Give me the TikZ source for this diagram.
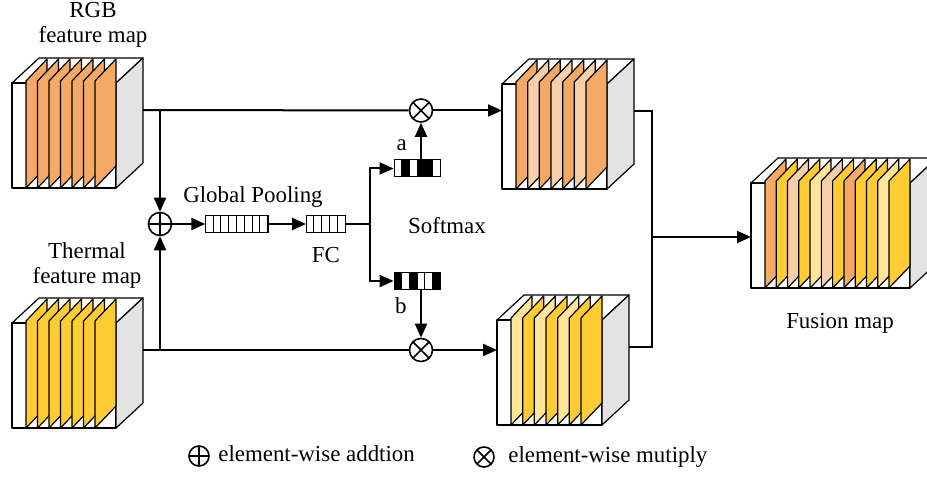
\documentclass[tikz,border=0pt]{standalone}
\usepackage{fontspec}
\setmainfont{Liberation Serif}
\usetikzlibrary{arrows.meta,positioning}

\definecolor{rgborange}{HTML}{F4A966}
\definecolor{rgbpeach}{HTML}{F8CFAA}
\definecolor{thgold}{HTML}{FFCC33}
\definecolor{thlight}{HTML}{FFE597}
\definecolor{sidegray}{HTML}{E3E3E3}

% карта признаков: #1 имя, #2 x, #3 y верха, #4 ширина, #5 число слоёв, #6 цвета слоёв
\newcommand{\fmap}[6]{%
  \draw[cube] (#2,#3) -- ++(27,-25) -- ++(#4,0) -- ++(-27,25) -- cycle; % верхняя грань
  \draw[cube] (#2,#3) rectangle ++(#4,105); % передняя грань
  \draw[cube, fill=sidegray] ({#2+#4},#3) -- ++(27,-25) -- ++(0,105) -- ++(-27,25) -- cycle; % боковая грань
  \foreach \col [count=\i from 0] in {#6}
    \draw[slice, fill=\col] ({#2+14+\i*(#4-35)/(#5-1)},{#3+105}) -- ++(0,-107) -- ++(21,-22) -- ++(0,107) -- cycle;
  \coordinate (#1-in) at (#2,{#3+52});
  \coordinate (#1-out) at ({#2+#4+27},{#3+27});
}
% перегородки в векторе #1 из #2 клеток
\newcommand{\cells}[2]{%
  \foreach \k in {1,...,#2}
    \draw[line width=1pt] ([xshift=\k*7.8pt]#1.south west) -- ([xshift=\k*7.8pt]#1.north west);
}
% чёрные клетки #2 в векторе #1
\newcommand{\blackcells}[2]{%
  \foreach \k in {#2}
    \fill ([xshift=\k*7.8pt-7.8pt]#1.south west) rectangle ([xshift=\k*7.8pt]#1.north west);
}

\begin{document}
\begin{tikzpicture}[x=1pt, y=-1pt, >={Triangle[length=14pt,width=12pt]}, font=\fontsize{22.9}{25}\selectfont] % y вниз, единица = пиксель
\tikzstyle{cube} = [draw, line width=1.2pt, fill=white, line join=round] % грани куба
\tikzstyle{slice} = [draw, line width=1.2pt, line join=round] % слой карты
\tikzstyle{wire} = [line width=2pt] % связи
\tikzstyle{strip} = [rectangle, draw, line width=1pt, fill=white, minimum height=17pt, inner sep=0pt] % вектор
\tikzstyle{addop} = [circle, draw, line width=1.6pt, minimum size=23pt, inner sep=0pt, path picture={\draw[line width=1.6pt] (path picture bounding box.north) -- (path picture bounding box.south) (path picture bounding box.west) -- (path picture bounding box.east);}] % сложение
\tikzstyle{mulop} = [circle, draw, line width=1.6pt, minimum size=23pt, inner sep=0pt, path picture={\draw[line width=1.6pt] (path picture bounding box.north west) -- (path picture bounding box.south east) (path picture bounding box.south west) -- (path picture bounding box.north east);}] % умножение
\tikzstyle{legtext} = [text height=0.7em, text depth=0.22em]
\useasboundingbox (0,0) rectangle (927,481);

% карты признаков
\fmap{rgb}{12}{83}{104}{7}{rgborange,rgborange,rgborange,rgborange,rgborange,rgborange,rgborange}
\fmap{th}{12}{323}{104}{7}{thgold,thgold,thgold,thgold,thgold,thgold,thgold}
\fmap{outa}{502}{84}{105}{7}{rgborange,rgbpeach,rgborange,rgbpeach,rgborange,rgbpeach,rgborange}
\fmap{outb}{497}{320}{105}{7}{thlight,thgold,thlight,thgold,thlight,thgold,thgold}
\fmap{fus}{751}{183}{159}{12}{rgborange,thgold,rgbpeach,thgold,thlight,rgbpeach,thgold,rgborange,thgold,thgold,thlight,thgold}

\node[align=center] (rgbtext) at (93,25) {RGB\\feature map};
\node[align=center] (thtext) at (87,265) {Thermal\\feature map};
\node (fustext) at (840,323) {Fusion map};

\node[addop] (add) at (160,224) {};
\node[strip, minimum width=62.4pt] (gp) at (237,224) {};
\node[strip, minimum width=39pt] (fc) at (326,224) {};
\node[strip, minimum width=46.8pt] (sa) at (417.5,168.5) {};
\node[strip, minimum width=46.8pt] (sb) at (417.5,281) {};
\node[mulop] (mula) at (421,110.5) {};
\node[mulop] (mulb) at (421,350) {};
\coordinate (split) at (370,224);
\coordinate (join) at (652,237);

\cells{gp}{8}
\cells{fc}{5}
\blackcells{sa}{2,4,5} \cells{sa}{6}
\blackcells{sb}{1,3,6} \cells{sb}{6}

\node[above=4pt of gp.north, xshift=16pt] (gptext) {Global Pooling};
\node[below=11pt of fc] (fctext) {FC};
\node (smtext) at (447,226) {Softmax};

% связи
\draw[wire, ->] (rgb-out) -| (add.north);
\draw[wire] (rgb-out) -- (mula);
\draw[wire, ->] (th-out) -| (add.south);
\draw[wire] (th-out) -- (mulb);
\draw[wire, ->] (add) -- (gp);
\draw[wire, ->] (gp) -- (fc);
\draw[wire] (fc) -- (split);
\draw[wire, ->] (split) |- (sa);
\draw[wire, ->] (split) |- (sb);
\draw[wire, ->] (sa.north -| mula) -- node[left=10pt, pos=0.4] (alab) {a} (mula);
\draw[wire, ->] (sb.south -| mulb) -- node[left=10pt, pos=0.32] (blab) {b} (mulb);
\draw[wire, ->] (mula) -- (mula -| outa-in);
\draw[wire, ->] (mulb) -- (mulb -| outb-in);
\draw[wire] (outa-out) -| (join);
\draw[wire] (outb-out) -| (join);
\draw[wire, ->] (join) -- (join -| fus-in);

% легенда
\node[addop, minimum size=20pt] (legadd) at (199,456) {};
\node[legtext, right=5pt of legadd, yshift=-3pt] (legaddtext) {element-wise addtion};
\node[mulop, minimum size=20pt] (legmul) at (484,457) {};
\node[legtext, right=10pt of legmul, yshift=-3pt] (legmultext) {element-wise mutiply};
\end{tikzpicture}
\end{document}
